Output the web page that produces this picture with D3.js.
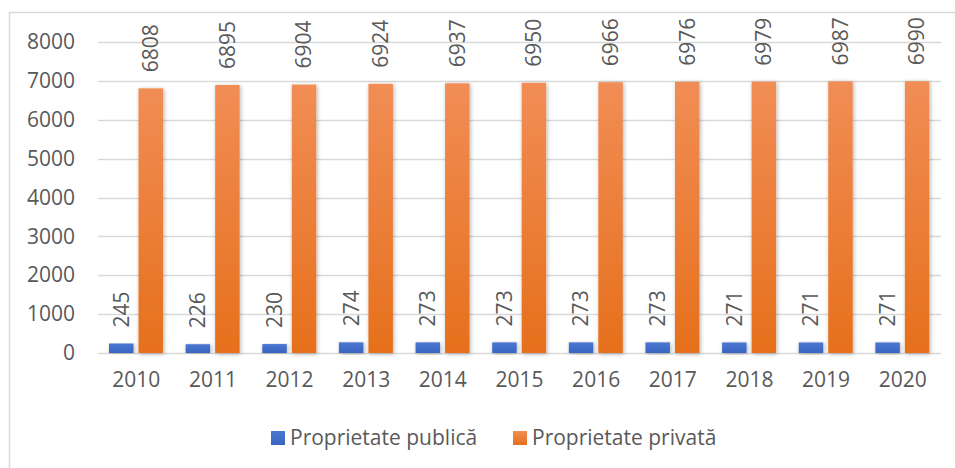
<!DOCTYPE html>
<html>
<head>
<meta charset="utf-8">
<script src="https://cdn.jsdelivr.net/npm/d3@7"></script>
<style>
  body { margin: 0; background: #fff; }
  text { font-family: "Open Sans", sans-serif; fill: #595959; }
</style>
</head>
<body>
<div id="chart"></div>
<script>
const years = ["2010", "2011", "2012", "2013", "2014", "2015", "2016", "2017", "2018", "2019", "2020"];
const publica = [245, 226, 230, 274, 273, 273, 273, 273, 271, 271, 271];
const privata = [6808, 6895, 6904, 6924, 6937, 6950, 6966, 6976, 6979, 6987, 6990];
const seriesNames = ["Proprietate publică", "Proprietate privată"];
const yTicks = [0, 1000, 2000, 3000, 4000, 5000, 6000, 7000, 8000];

const W = 955, H = 468;
const plotLeft = 98, plotRight = 941, plotTop = 42, plotBottom = 353;
const fontSize = "21px";

const svg = d3.select("#chart").append("svg")
  .attr("width", W).attr("height", H);

const defs = svg.append("defs");
const gradOrange = defs.append("linearGradient").attr("id", "gOrange")
  .attr("x1", 0).attr("y1", 0).attr("x2", 0).attr("y2", 1);
gradOrange.append("stop").attr("offset", "0%").attr("stop-color", "#f18d55");
gradOrange.append("stop").attr("offset", "100%").attr("stop-color", "#e6701c");
const gradBlue = defs.append("linearGradient").attr("id", "gBlue")
  .attr("x1", 0).attr("y1", 0).attr("x2", 0).attr("y2", 1);
gradBlue.append("stop").attr("offset", "0%").attr("stop-color", "#4b77d1");
gradBlue.append("stop").attr("offset", "100%").attr("stop-color", "#3a65c0");
const shadow = defs.append("filter").attr("id", "shadow")
  .attr("x", "-30%").attr("y", "-5%").attr("width", "160%").attr("height", "115%");
shadow.append("feDropShadow").attr("dx", 1).attr("dy", 1).attr("stdDeviation", 2)
  .attr("flood-color", "#000").attr("flood-opacity", 0.3);

// outer border
svg.append("rect")
  .attr("x", 9.5).attr("y", 12.5).attr("width", W + 10).attr("height", H + 10)
  .attr("fill", "none").attr("stroke", "#d9d9d9").attr("stroke-width", 1.5);

const x0 = d3.scaleBand().domain(years).range([plotLeft, plotRight]);
const x1 = d3.scaleBand().domain(seriesNames).range([11, 65]).paddingInner(0.17);
const y = d3.scaleLinear().domain([0, 8000]).range([plotBottom, plotTop]);

// gridlines
svg.append("g").selectAll("line").data(yTicks).enter().append("line")
  .attr("x1", plotLeft).attr("x2", plotRight)
  .attr("y1", d => Math.round(y(d)) + 0.5).attr("y2", d => Math.round(y(d)) + 0.5)
  .attr("stroke", "#d9d9d9").attr("stroke-width", 1.3);

// y axis labels
const yAxis = svg.append("g")
  .attr("transform", `translate(${plotLeft - 23},0)`)
  .call(d3.axisLeft(y).tickValues(yTicks).tickFormat(d3.format("d")).tickSize(0).tickPadding(0));
yAxis.select(".domain").remove();
yAxis.selectAll("text").style("font-size", fontSize).style("font-family", "Open Sans").attr("fill", "#595959");

// x axis labels
const xAxis = svg.append("g")
  .attr("transform", `translate(0,${plotBottom + 19})`)
  .call(d3.axisBottom(x0).tickSize(0).tickPadding(0));
xAxis.select(".domain").remove();
xAxis.selectAll("text").style("font-size", fontSize).style("font-family", "Open Sans").attr("fill", "#595959");

const series = [
  { name: seriesNames[0], values: publica, fill: "url(#gBlue)" },
  { name: seriesNames[1], values: privata, fill: "url(#gOrange)" }
];

series.forEach(s => {
  const g = svg.append("g");
  g.selectAll("rect").data(s.values).enter().append("rect")
    .attr("x", (d, i) => x0(years[i]) + x1(s.name))
    .attr("y", d => y(d))
    .attr("width", x1.bandwidth())
    .attr("height", d => y(0) - y(d))
    .attr("fill", s.fill)
    .attr("filter", "url(#shadow)");

  g.selectAll("text").data(s.values).enter().append("text")
    .attr("transform", (d, i) => {
      const cx = x0(years[i]) + x1(s.name) + x1.bandwidth() / 2;
      return `translate(${cx},${y(d) - 16}) rotate(-90)`;
    })
    .attr("dy", "0.35em")
    .attr("text-anchor", "start")
    .style("font-size", fontSize)
    .text(d => d);
});

// legend
const legend = svg.append("g").attr("transform", "translate(0,438)");
const legendItems = [
  { name: seriesNames[0], x: 271, fill: "url(#gBlue)" },
  { name: seriesNames[1], x: 513, fill: "url(#gOrange)" }
];
legendItems.forEach(l => {
  legend.append("rect").attr("x", l.x).attr("y", -7).attr("width", 14).attr("height", 14).attr("fill", l.fill);
  legend.append("text").attr("x", l.x + 19).attr("y", 0).attr("dy", "0.35em")
    .style("font-size", fontSize).text(l.name);
});
</script>
</body>
</html>
